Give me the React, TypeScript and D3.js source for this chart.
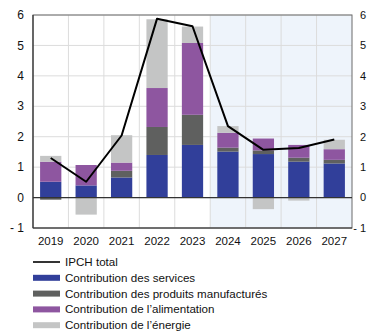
import React, { useEffect, useRef } from 'react';
import * as d3 from 'd3';

const years = ['2019', '2020', '2021', '2022', '2023', '2024', '2025', '2026', '2027'];
const services = [0.52, 0.4, 0.66, 1.4, 1.73, 1.51, 1.43, 1.18, 1.12];
const manufactured = [-0.07, 0.0, 0.22, 0.92, 0.99, 0.13, 0.12, 0.13, 0.12];
const food = [0.66, 0.67, 0.27, 1.28, 2.36, 0.49, 0.39, 0.42, 0.35];
const energy = [0.19, -0.56, 0.9, 2.26, 0.54, 0.22, -0.38, -0.1, 0.31];
const totalHicp = [1.3, 0.52, 2.04, 5.88, 5.63, 2.35, 1.57, 1.63, 1.91];
const yTicks = [-1, 0, 1, 2, 3, 4, 5, 6];
const forecastStart = '2024';

const seriesNames = [
  'Contribution des services',
  'Contribution des produits manufacturés',
  "Contribution de l\u2019alimentation",
  "Contribution de l\u2019énergie",
];
const colors = ['#313f9a', '#5f605f', '#8e56a0', '#c4c5c5'];

const W = 367;
const H = 336;
const FONT = 'Liberation Sans, Arial, sans-serif';

const App: React.FC = () => {
  const svgRef = useRef<SVGSVGElement>(null);

  useEffect(() => {
    if (!svgRef.current) return;
    const svg = d3.select(svgRef.current);
    svg.selectAll('*').remove();

    const margin = { top: 15, right: 15, bottom: 108, left: 33 };
    const innerW = W - margin.left - margin.right;
    const innerH = H - margin.top - margin.bottom;

    const g = svg.append('g').attr('transform', `translate(${margin.left},${margin.top})`);

    const x = d3.scaleBand().domain(years).range([0, innerW]).paddingInner(0.4).paddingOuter(0.2);
    const y = d3.scaleLinear().domain([-1, 6]).range([innerH, 0]);
    const step = x.step();
    const edge = (i: number) => i * step;

    // forecast shading
    const fi = years.indexOf(forecastStart);
    g.append('rect')
      .attr('x', edge(fi))
      .attr('y', 0)
      .attr('width', innerW - edge(fi))
      .attr('height', innerH)
      .attr('fill', '#eef4fb');

    // grid
    g.selectAll('.hgrid')
      .data(yTicks)
      .enter()
      .append('line')
      .attr('x1', 0)
      .attr('x2', innerW)
      .attr('y1', d => y(d))
      .attr('y2', d => y(d))
      .attr('stroke', '#dcdcdc')
      .attr('stroke-width', 1);

    g.selectAll('.vgrid')
      .data(d3.range(1, years.length))
      .enter()
      .append('line')
      .attr('x1', d => edge(d))
      .attr('x2', d => edge(d))
      .attr('y1', 0)
      .attr('y2', innerH)
      .attr('stroke', '#dcdcdc')
      .attr('stroke-width', 1);

    // stacked bars
    const table = years.map((yr, i) => ({
      year: yr,
      s0: services[i],
      s1: manufactured[i],
      s2: food[i],
      s3: energy[i],
    }));
    const stack = d3.stack<any>()
      .keys(['s0', 's1', 's2', 's3'])
      .offset(d3.stackOffsetDiverging);
    const layers = stack(table);

    layers.forEach((layer, li) => {
      g.selectAll(`.bar-${li}`)
        .data(layer)
        .enter()
        .append('rect')
        .attr('x', d => x(d.data.year) as number)
        .attr('width', x.bandwidth())
        .attr('y', d => y(Math.max(d[0], d[1])))
        .attr('height', d => Math.abs(y(d[0]) - y(d[1])))
        .attr('fill', colors[li]);
    });

    // frame
    g.append('rect')
      .attr('x', 0)
      .attr('y', 0)
      .attr('width', innerW)
      .attr('height', innerH)
      .attr('fill', 'none')
      .attr('stroke', '#6b6b6b')
      .attr('stroke-width', 1);

    g.append('line')
      .attr('x1', 0)
      .attr('x2', 0)
      .attr('y1', 0)
      .attr('y2', innerH)
      .attr('stroke', '#333')
      .attr('stroke-width', 1.2);
    g.append('line')
      .attr('x1', 0)
      .attr('x2', innerW)
      .attr('y1', innerH)
      .attr('y2', innerH)
      .attr('stroke', '#333')
      .attr('stroke-width', 1.2);
    g.append('line')
      .attr('x1', 0)
      .attr('x2', innerW)
      .attr('y1', y(0))
      .attr('y2', y(0))
      .attr('stroke', '#333')
      .attr('stroke-width', 1.2);

    // total line
    const line = d3.line<number>()
      .x((_, i) => (x(years[i]) as number) + x.bandwidth() / 2)
      .y(d => y(d));
    g.append('path')
      .datum(totalHicp)
      .attr('fill', 'none')
      .attr('stroke', '#000')
      .attr('stroke-width', 2)
      .attr('stroke-linejoin', 'round')
      .attr('d', line);

    const fmt = (d: number) => (d < 0 ? `- ${Math.abs(d)}` : `${d}`);

    // left axis labels
    g.selectAll('.ylab')
      .data(yTicks)
      .enter()
      .append('text')
      .attr('x', -9)
      .attr('y', d => y(d))
      .attr('dy', '0.35em')
      .attr('text-anchor', 'end')
      .style('font-family', FONT)
      .style('font-size', '12px')
      .style('fill', '#111')
      .text(fmt);

    // right axis labels, pushed to the page edge
    g.selectAll('.ylab-r')
      .data(yTicks)
      .enter()
      .append('text')
      .attr('x', W - margin.left - 1)
      .attr('y', d => y(d))
      .attr('dy', '0.35em')
      .attr('text-anchor', 'end')
      .style('font-family', FONT)
      .style('font-size', '11px')
      .style('fill', '#111')
      .text(fmt);

    // x labels
    g.selectAll('.xlab')
      .data(years)
      .enter()
      .append('text')
      .attr('x', d => (x(d) as number) + x.bandwidth() / 2)
      .attr('y', innerH + 17)
      .attr('text-anchor', 'middle')
      .style('font-family', FONT)
      .style('font-size', '11.5px')
      .style('fill', '#111')
      .text(d => d);

    // legend
    const legend = svg.append('g').attr('transform', 'translate(33, 262)');
    const rowH = 15.8;
    const row0 = legend.append('g');
    row0.append('line')
      .attr('x1', 0)
      .attr('x2', 27)
      .attr('y1', 0)
      .attr('y2', 0)
      .attr('stroke', '#000')
      .attr('stroke-width', 1.6);
    row0.append('text')
      .attr('x', 32)
      .attr('y', 0)
      .attr('dy', '0.35em')
      .style('font-family', FONT)
      .style('font-size', '11.6px')
      .style('fill', '#111')
      .text('IPCH total');

    seriesNames.forEach((name, i) => {
      const row = legend.append('g').attr('transform', `translate(0, ${(i + 1) * rowH})`);
      row.append('rect')
        .attr('x', 0)
        .attr('y', -3)
        .attr('width', 27)
        .attr('height', 6)
        .attr('fill', colors[i]);
      row.append('text')
        .attr('x', 32)
        .attr('y', 0)
        .attr('dy', '0.35em')
        .style('font-family', FONT)
        .style('font-size', '11.6px')
        .style('fill', '#111')
        .text(name);
    });
  }, []);

  return (
    <svg
      ref={svgRef}
      width={W}
      height={H}
      style={{ position: 'absolute', left: 0, top: 0, background: '#fff' }}
    />
  );
};

export default App;
